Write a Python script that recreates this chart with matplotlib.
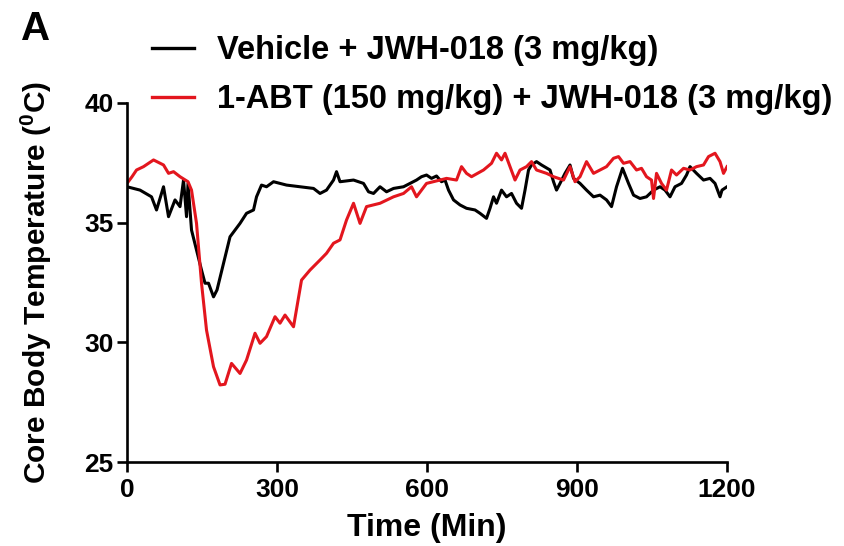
import matplotlib
matplotlib.use("Agg")
import matplotlib.pyplot as plt
from matplotlib.lines import Line2D

plt.rcParams["font.family"] = ["Liberation Sans", "DejaVu Sans"]
plt.rcParams["font.weight"] = "bold"
plt.rcParams["axes.labelweight"] = "bold"
plt.rcParams["mathtext.fontset"] = "custom"
plt.rcParams["mathtext.rm"] = "Liberation Sans:bold"
plt.rcParams["mathtext.bf"] = "Liberation Sans:bold"

# Vehicle + JWH-018 (3 mg/kg)
veh_t = [0, 26, 49, 59, 73, 83, 96, 106, 113, 119, 122, 129, 149, 156, 163,
         173, 180, 193, 206, 216, 226, 239, 253, 259, 269, 279, 293, 319, 346,
         373, 386, 399, 413, 419, 426, 453, 473, 483, 493, 506, 519, 533, 553,
         566, 579, 589, 599, 609, 619, 629, 636, 643, 653, 666, 679, 696, 706,
         719, 726, 733, 739, 749, 759, 769, 779, 789, 796, 803, 809, 819, 829,
         846, 853, 859, 866, 876, 886, 893, 906, 919, 933, 946, 959, 969, 979,
         991, 1003, 1013, 1026, 1039, 1053, 1066, 1076, 1086, 1096, 1109, 1119,
         1126, 1139, 1153, 1166, 1176, 1186, 1190, 1200]
veh_temp = [36.5, 36.36, 36.08, 35.53, 36.5, 35.25, 35.95, 35.67, 36.78, 35.25,
            36.64, 34.69, 33.02, 32.47, 32.47, 31.9, 32.19, 33.3, 34.41, 34.69,
            34.97, 35.39, 35.53, 36.08, 36.57, 36.5, 36.71, 36.57, 36.5, 36.43,
            36.22, 36.36, 36.78, 37.13, 36.71, 36.78, 36.64, 36.29, 36.22, 36.5,
            36.29, 36.43, 36.5, 36.64, 36.78, 36.92, 36.99, 36.85, 36.95, 36.71,
            36.78, 36.36, 35.95, 35.74, 35.6, 35.53, 35.39, 35.18, 35.6, 36.08,
            35.81, 36.36, 36.08, 36.22, 35.81, 35.6, 36.36, 37.2, 37.41, 37.55,
            37.41, 37.2, 36.71, 36.36, 36.64, 37.06, 37.41, 36.85, 36.64, 36.36,
            36.08, 36.15, 35.95, 35.67, 36.5, 37.27, 36.64, 36.15, 36.01, 36.08,
            36.36, 36.5, 36.36, 36.08, 36.5, 36.64, 36.99, 37.34, 37.06, 36.78,
            36.85, 36.64, 36.08, 36.36, 36.5]

# 1-ABT (150 mg/kg) + JWH-018 (3 mg/kg)
abt_t = [0, 10, 19, 33, 53, 73, 83, 93, 106, 122, 129, 139, 149, 159, 173, 186,
         196, 209, 226, 239, 256, 266, 279, 296, 306, 316, 333, 349, 366, 386,
         399, 413, 426, 439, 453, 466, 479, 506, 533, 553, 569, 579, 599, 626,
         639, 659, 669, 679, 689, 713, 729, 739, 749, 756, 766, 776, 786, 799,
         809, 819, 839, 853, 873, 886, 896, 906, 919, 933, 946, 959, 973, 983,
         993, 1006, 1019, 1029, 1039, 1049, 1053, 1059, 1069, 1079, 1089, 1099,
         1113, 1126, 1139, 1153, 1163, 1176, 1186, 1193, 1200]
abt_temp = [36.64, 36.92, 37.2, 37.34, 37.62, 37.41, 37.06, 37.13, 36.92, 36.71,
            36.36, 34.97, 32.47, 30.51, 28.98, 28.22, 28.25, 29.12, 28.7, 29.26,
            30.38, 29.96, 30.24, 31.07, 30.8, 31.14, 30.65, 32.6, 33.02, 33.44,
            33.72, 34.14, 34.28, 35.11, 35.81, 34.97, 35.67, 35.81, 36.08, 36.22,
            36.5, 36.08, 36.64, 36.78, 36.85, 36.78, 37.34, 37.06, 36.92, 37.2,
            37.48, 37.9, 37.62, 37.9, 37.34, 36.78, 37.2, 37.34, 37.55, 37.2,
            37.06, 36.92, 36.78, 37.34, 36.71, 36.92, 37.55, 37.06, 37.2, 37.34,
            37.69, 37.76, 37.48, 37.55, 37.2, 37.27, 36.92, 36.78, 36.01, 37.06,
            36.64, 36.36, 37.2, 36.99, 37.27, 37.2, 37.34, 37.41, 37.76, 37.9,
            37.55, 37.06, 37.34]

x_ticks = [0, 300, 600, 900, 1200]
y_ticks = [25, 30, 35, 40]

fig = plt.figure(figsize=(8.44, 5.46), dpi=100)
ax = fig.add_axes([0.1505, 0.1538, 0.7109, 0.6576])

ax.plot(veh_t, veh_temp, color="black", lw=2.2)
ax.plot(abt_t, abt_temp, color="#e3161e", lw=2.2)

ax.set_xlim(0, 1200)
ax.set_ylim(25, 40)
ax.set_xticks(x_ticks)
ax.set_yticks(y_ticks)
for s in ["top", "right"]:
    ax.spines[s].set_visible(False)
for s in ["left", "bottom"]:
    ax.spines[s].set_linewidth(1.9)
ax.tick_params(width=1.9, length=7.5, labelsize=19)
ax.tick_params(axis="y", pad=2)
ax.tick_params(axis="x", pad=4)

ax.set_xlabel("Time (Min)", fontsize=23, labelpad=8)
ax.set_ylabel(r"Core Body Temperature ($^{0}$C)", fontsize=21.5, labelpad=22)

handles = [Line2D([], [], color="black", lw=2.4),
           Line2D([], [], color="#e3161e", lw=2.4)]
labels = ["Vehicle + JWH-018 (3 mg/kg)", "1-ABT (150 mg/kg) + JWH-018 (3 mg/kg)"]
fig.legend(handles, labels, loc="upper left", bbox_to_anchor=(0.1800, 0.935),
           frameon=False, fontsize=23.5, handlelength=1.3, handletextpad=0.7,
           labelspacing=0.55, borderpad=0, borderaxespad=0)

fig.text(0.025, 0.982, "A", fontsize=29, fontweight="bold", va="top")

fig.savefig("out.png", dpi=100)
